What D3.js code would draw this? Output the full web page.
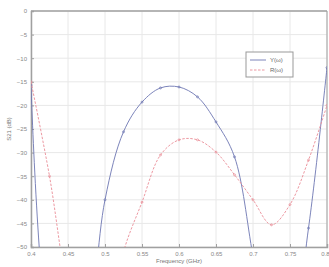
<!DOCTYPE html>
<html>
<head>
<meta charset="utf-8">
<script src="https://cdn.jsdelivr.net/npm/d3@7"></script>
<style>
body{margin:0;background:#fff;}
text{font-family:"Liberation Sans",Arial,sans-serif;}
</style>
</head>
<body>
<script>
const freq = [0.4,0.425,0.45,0.475,0.5,0.525,0.55,0.575,0.6,0.625,0.65,0.675,0.7,0.725,0.75,0.775,0.8];
const seriesY = [-15.7,-70,-80,-70,-40,-25.6,-19.3,-16.3,-16.1,-18.2,-23.5,-30.9,-52,-75,-70,-46,-12];
const seriesR = [-15,-35,-60,-75,-70,-51,-40.5,-30.5,-27.3,-27.3,-29.9,-34.7,-40,-45.3,-41,-31.6,-20];
const xTicks = [0.4,0.45,0.5,0.55,0.6,0.65,0.7,0.75,0.8];
const yTicks = [0,-5,-10,-15,-20,-25,-30,-35,-40,-45,-50];
const names = ["Y(\u03c9)","R(\u03c9)"];

const w = 329, h = 267;
const m = {left:31, right:2, top:11, bottom:20};
const svg = d3.select("body").append("svg").attr("width",w).attr("height",h);

const x = d3.scaleLinear().domain([0.4,0.8]).range([m.left, w - m.right]);
const y = d3.scaleLinear().domain([-50,0]).range([h - m.bottom, m.top]);

// grid
svg.append("g").selectAll("line").data(xTicks).enter().append("line")
  .attr("x1",d=>x(d)).attr("x2",d=>x(d)).attr("y1",y(0)).attr("y2",y(-50))
  .attr("stroke","#e8e8e8").attr("stroke-width",1);
svg.append("g").selectAll("line").data(yTicks).enter().append("line")
  .attr("y1",d=>y(d)).attr("y2",d=>y(d)).attr("x1",x(0.4)).attr("x2",x(0.8))
  .attr("stroke","#e8e8e8").attr("stroke-width",1);

// axes
const xAxis = d3.axisBottom(x).tickValues(xTicks).tickSize(-3).tickPadding(5).tickFormat(d3.format("~g"));
const yAxis = d3.axisLeft(y).tickValues(yTicks).tickSize(-3).tickPadding(4).tickFormat(d3.format("~g"));
const gx = svg.append("g").attr("transform","translate(0,"+y(-50)+")").call(xAxis);
const gy = svg.append("g").attr("transform","translate("+x(0.4)+",0)").call(yAxis);
[gx,gy].forEach(g=>{
  g.select(".domain").attr("stroke","#a0a0a0").attr("stroke-width",1.5);
  g.selectAll(".tick line").attr("stroke","#a0a0a0");
  g.selectAll("text").attr("fill","#888").style("font-size","6px");
});
gx.selectAll(".tick text").filter(d=>d===0.8).attr("text-anchor","end").attr("dx","2px");
svg.append("line").attr("x1",x(0.4)).attr("x2",x(0.8)).attr("y1",y(0)).attr("y2",y(0))
  .attr("stroke","#a0a0a0").attr("stroke-width",1.5);
svg.append("line").attr("x1",x(0.8)).attr("x2",x(0.8)).attr("y1",y(0)).attr("y2",y(-50))
  .attr("stroke","#a0a0a0").attr("stroke-width",1);

// labels
svg.append("text").attr("x",(x(0.4)+x(0.8))/2).attr("y",263).attr("text-anchor","middle")
  .attr("fill","#777").style("font-size","6px").text("Frequency (GHz)");
svg.append("text").attr("transform","translate(11,"+((y(0)+y(-50))/2)+") rotate(-90)")
  .attr("text-anchor","middle").attr("fill","#777").style("font-size","6px").text("S21 (dB)");

// curves
svg.append("clipPath").attr("id","clip").append("rect")
  .attr("x",x(0.4)).attr("y",y(0)).attr("width",x(0.8)-x(0.4)).attr("height",y(-50)-y(0));
const plot = svg.append("g").attr("clip-path","url(#clip)");
const line = d3.line().x((d,i)=>x(freq[i])).y(d=>y(d)).curve(d3.curveCatmullRom.alpha(0.5));
const styles = [
  {data:seriesY, color:"#6d76b2", dash:null},
  {data:seriesR, color:"#ea8c96", dash:"2.5,1.5"}
];
styles.forEach(s=>{
  plot.append("path").datum(s.data).attr("d",line).attr("fill","none")
    .attr("stroke",s.color).attr("stroke-width",0.9).attr("stroke-dasharray",s.dash);
  plot.selectAll(null).data(s.data).enter().append("circle")
    .attr("cx",(d,i)=>x(freq[i])).attr("cy",d=>y(d)).attr("r",1)
    .attr("fill","none").attr("stroke",s.color).attr("stroke-width",0.7);
});

// legend
const lg = svg.append("g").attr("transform","translate(246,52)");
lg.append("rect").attr("width",47).attr("height",25).attr("fill","#fff")
  .attr("stroke","#999").attr("stroke-width",1);
styles.forEach((s,i)=>{
  const yy = 8 + i*10;
  lg.append("line").attr("x1",4).attr("x2",20).attr("y1",yy).attr("y2",yy)
    .attr("stroke",s.color).attr("stroke-width",0.9).attr("stroke-dasharray",s.dash);
  lg.append("text").attr("x",24).attr("y",yy+2).attr("fill","#666")
    .style("font-size","6px").text(names[i]);
});
</script>
</body>
</html>
